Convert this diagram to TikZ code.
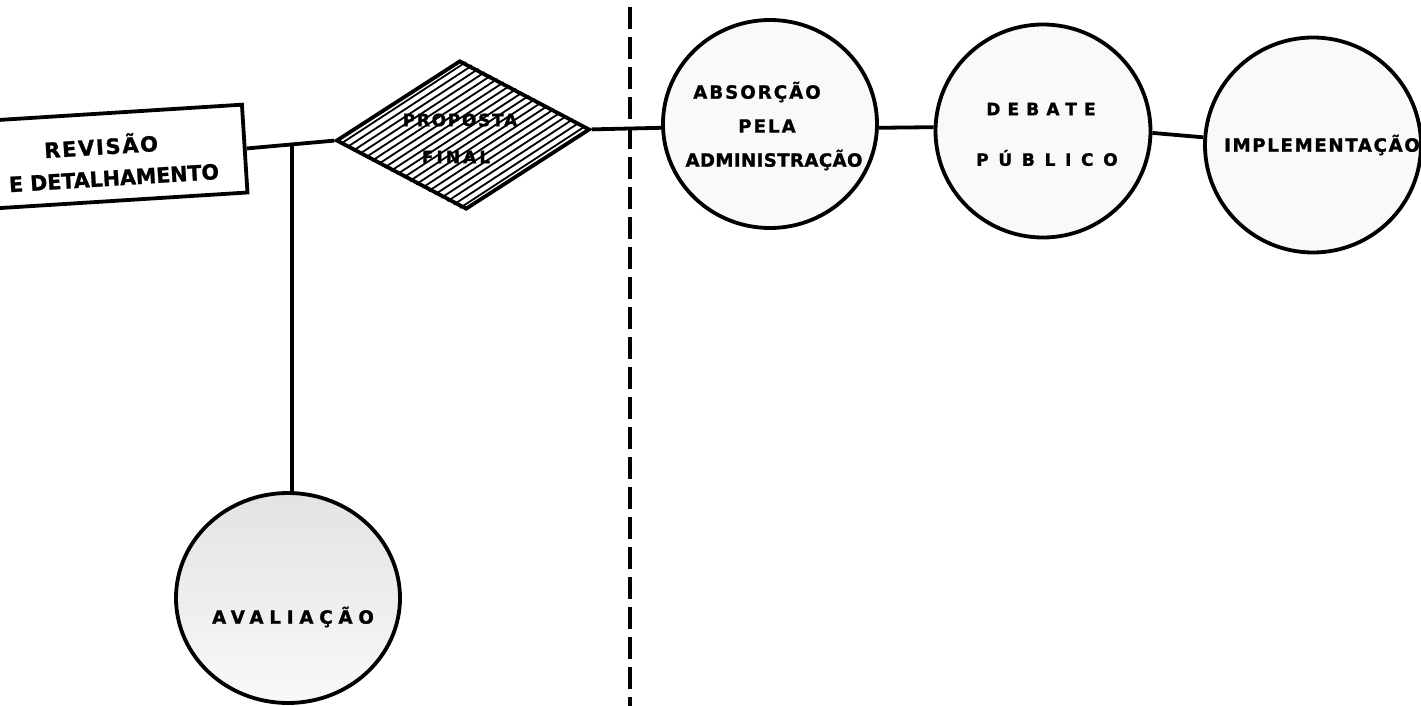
\documentclass[tikz,border=0pt]{standalone}
\usepackage{fontspec}
\setmainfont{DejaVu Sans}
\usetikzlibrary{shapes.geometric,calc}
\newcommand{\spaced}[2]{{\addfontfeatures{LetterSpace=#1,FakeBold=1.2}#2}}
\begin{document}
\begin{tikzpicture}[x=0.5pt,y=-0.5pt,
  ln/.style={line width=1.9pt},
  bubble/.style={ellipse, draw, line width=1.9pt, fill=gray!5, inner sep=0pt},
  big/.style={font=\bfseries\fontsize{10.5}{12}\selectfont, inner sep=0pt},
  mid/.style={font=\bfseries\fontsize{9.1}{10}\selectfont, inner sep=0pt},
  small/.style={font=\bfseries\fontsize{8.5}{10}\selectfont, inner sep=0pt},
  hatch/.style={line width=0.9pt},
  divider/.style={line width=2pt, dash pattern=on 11pt off 4pt}]
\useasboundingbox (0,0) rectangle (1421,706);
\clip (0,0) rectangle (1421,706);

% left box
\node[draw, ln, rotate=3.6, minimum width=150pt, minimum height=44pt, inner sep=0pt] (rev) at (95,158) {};
\node[big, rotate=3.6] (t1) at (101,145) {\spaced{8}{REVISÃO}};
\node[big, rotate=3.6, xscale=0.98] (t2) at (114,178) {\spaced{0}{E DETALHAMENTO}};

% diamond
\node[diamond, draw, ln, minimum width=127pt, minimum height=74.5pt, inner sep=0pt, rotate=2.5] (dia) at (463,135) {};
\foreach \i in {1,...,20}{
  \pgfmathsetmacro{\t}{\i/21}
  \draw[hatch] ($(dia.west)!\t!(dia.south)$) -- ($(dia.north)!\t!(dia.east)$);
}
\node[small] (p1) at (460,120) {\spaced{10}{PROPOSTA}};
\node[small] (p2) at (456,157) {\spaced{18}{FINAL}};

% circles
\node[bubble, minimum width=107pt, minimum height=104pt] (abs) at (770,124) {};
\node[bubble, minimum width=107.5pt, minimum height=106.5pt] (deb) at (1043,131) {};
\node[bubble, minimum width=108pt, minimum height=107.5pt] (imp) at (1313,145) {};
\node[ellipse, draw, line width=1.9pt, inner sep=0pt, top color=gray!22, bottom color=gray!5, minimum width=112pt, minimum height=105pt] (ava) at (288,598) {};

\node[mid] (a1) at (757,92) {\spaced{11}{ABSORÇÃO}};
\node[mid] (a2) at (767,126) {\spaced{11}{PELA}};
\node[mid] (a3) at (774,160) {\spaced{2}{ADMINISTRAÇÃO}};
\node[small] (d1) at (1041,109) {\spaced{42}{DEBATE}};
\node[small] (d2) at (1047,158) {\spaced{57}{PÚBLICO}};
\node[mid] (i1) at (1322,145) {\spaced{9}{IMPLEMENTAÇÃO}};
\node[mid] (v1) at (293,617) {\spaced{32}{AVALIAÇÃO}};

% connectors
\coordinate (j) at ($(rev.east)!0.52!(dia.west)$);
\draw[ln] (rev.east) -- (dia.west);
\draw[ln] (j) -- (j |- ava.north);
\draw[ln] (dia.east) -- (abs.182);
\draw[ln] (abs.-2) -- (deb.178);
\draw[ln] (deb.-1) -- (imp.176);

% divider
\coordinate (dtop) at (630,7);
\coordinate (dbot) at (630,706);
\draw[divider] (dtop) -- (dbot);
\end{tikzpicture}
\end{document}
